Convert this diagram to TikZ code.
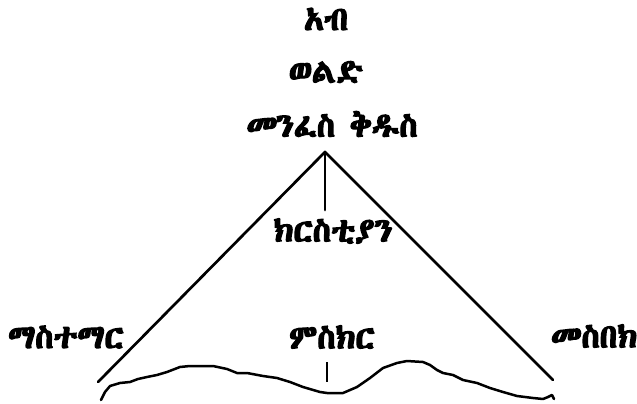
\documentclass[tikz,border=0pt]{standalone}
\usepackage{fontspec}
\IfFontExistsTF{Abyssinica SIL}{%
  \newfontfamily\ethfont[Script=Ethiopic,FakeBold=4]{Abyssinica SIL}}{%
  \IfFontExistsTF{FreeSerif}{%
    \newfontfamily\ethfont[Script=Ethiopic,FakeBold=4]{FreeSerif}}{%
    \IfFontExistsTF{FreeSans}{%
      \newfontfamily\ethfont[Script=Ethiopic,FakeBold=4]{FreeSans}}{%
      \newfontfamily\ethfont[FakeBold=4]{DejaVu Sans}}}}
\tikzset{
  lbl/.style={inner sep=0pt, font=\ethfont\fontsize{33}{35}\selectfont},
  stroke/.style={line width=2.7pt, line cap=round, line join=round},
  ground/.style={line width=2.5pt, line cap=round, line join=round}
}
\begin{document}
\begin{tikzpicture}[x=1pt,y=-1pt]
\fill[white] (0,0) rectangle (637,404);
\useasboundingbox (0,0) rectangle (637,404);
% texts
\node[lbl] (ab) at (326,19) {አብ};
\node[lbl] (weld) at (326,72) {ወልድ};
\node[lbl] (menfes) at (332,124) {መንፈስ ቅዱስ};
\node[lbl] (krist) at (333,231) {ክርስቲያን};
\node[lbl] (mast) at (66,337) {ማስተማር};
\node[lbl] (msk) at (332,337) {ምስክር};
\node[lbl] (mesb) at (594,336) {መስበክ};
% structure
\coordinate (apex) at (325,152);
\coordinate (lfoot) at (98,382);
\coordinate (rfoot) at (553,380);
\coordinate (stem) at (325,210);
\coordinate (tickt) at (327,362);
\coordinate (tickb) at (327,382);
\draw[stroke] (lfoot) -- (apex) -- (rfoot);
\draw[stroke] (apex) -- (stem);
\draw[line width=2.2pt] (tickt) -- (tickb);
% ground line
\draw[ground] (101,400) -- (105,392) -- (110,386) -- (120,383) -- (130,382) -- (138,379) -- (147,377) -- (157,375) -- (167,372) -- (180,367) -- (190,366) -- (213,366) -- (227,369) -- (237,373) -- (247,373) -- (263,376) -- (277,378) -- (290,382) -- (303,387) -- (320,392) -- (327,393) -- (343,393) -- (357,387) -- (370,378) -- (383,368) -- (397,363) -- (407,361) -- (423,362) -- (430,365) -- (437,370) -- (443,373) -- (453,375) -- (463,380) -- (477,383) -- (490,388) -- (503,392) -- (517,396) -- (533,398) -- (543,399) -- (548,397) -- (552,395) -- (554,399);
\end{tikzpicture}
\end{document}
